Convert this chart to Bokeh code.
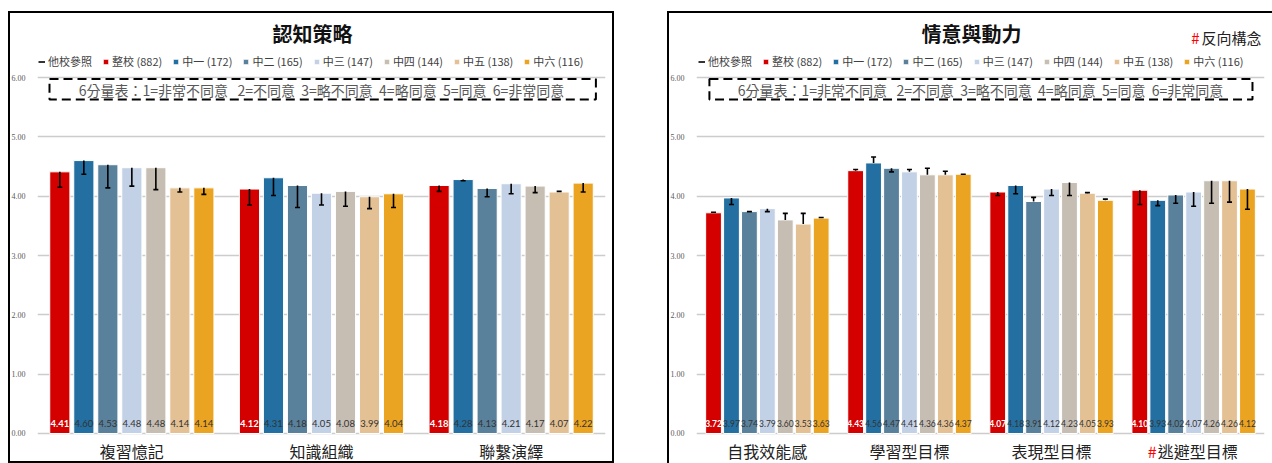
from bokeh.plotting import figure
from bokeh.models import (ColumnDataSource, FactorRange, Range1d, FixedTicker,
                          PrintfTickFormatter, Legend, LegendItem, BoxAnnotation,
                          Spacer)
from bokeh.layouts import row, column
from bokeh.core.properties import value
from bokeh.embed import file_html
from bokeh.resources import INLINE

# ---------------- data ----------------
series = ["整校", "中一", "中二", "中三", "中四", "中五", "中六"]
series_n = [882, 172, 165, 147, 144, 138, 116]
series_colors = ["#D40000", "#236FA1", "#5A819B", "#C3D1E6", "#C7BEB3", "#E3C194", "#EBA322"]
ref_name = "他校參照"
NB = "\u00a0"
scale_note = ("6分量表：1=非常不同意" + NB * 3 + "2=不同意" + NB * 2 + "3=略不同意" + NB * 2
              + "4=略同意" + NB * 2 + "5=同意" + NB * 2 + "6=非常同意")
y_ticks = [0, 1, 2, 3, 4, 5, 6]

cog_title = "認知策略"
cog_cats = ["複習憶記", "知識組織", "聯繫演繹"]
cog_school = [4.41, 4.12, 4.18]
cog_m1 = [4.60, 4.31, 4.28]
cog_m2 = [4.53, 4.18, 4.13]
cog_m3 = [4.48, 4.05, 4.21]
cog_m4 = [4.48, 4.08, 4.17]
cog_m5 = [4.14, 3.99, 4.07]
cog_m6 = [4.14, 4.04, 4.22]
cog_school_ref = [4.15, 3.85, 4.08]
cog_m1_ref = [4.37, 4.01, 4.26]
cog_m2_ref = [4.14, 3.81, 3.99]
cog_m3_ref = [4.17, 3.85, 4.04]
cog_m4_ref = [4.11, 3.83, 4.06]
cog_m5_ref = [4.07, 3.79, 4.08]
cog_m6_ref = [4.03, 3.81, 4.07]

aff_title = "情意與動力"
aff_note = "反向構念"
aff_cats = ["自我效能感", "學習型目標", "表現型目標", "#逃避型目標"]
aff_school = [3.72, 4.43, 4.07, 4.10]
aff_m1 = [3.97, 4.56, 4.18, 3.93]
aff_m2 = [3.74, 4.47, 3.91, 4.02]
aff_m3 = [3.79, 4.41, 4.12, 4.07]
aff_m4 = [3.60, 4.36, 4.23, 4.26]
aff_m5 = [3.53, 4.36, 4.05, 4.26]
aff_m6 = [3.63, 4.37, 3.93, 4.12]
aff_school_ref = [3.73, 4.45, 4.01, 3.86]
aff_m1_ref = [3.86, 4.66, 4.04, 3.84]
aff_m2_ref = [3.74, 4.41, 3.98, 3.88]
aff_m3_ref = [3.74, 4.45, 4.01, 3.83]
aff_m4_ref = [3.71, 4.47, 4.01, 3.88]
aff_m5_ref = [3.71, 4.42, 4.06, 3.90]
aff_m6_ref = [3.64, 4.37, 3.95, 3.78]

CJK = "Noto Sans CJK TC"
TOP_GAP = 11
HEIGHT = 463 - TOP_GAP
PX_PER_UNIT = 59.33
Y_START = -30 / PX_PER_UNIT          # frame bottom 30px below 0.00
Y_END = 6 + 66 / PX_PER_UNIT         # frame top 66px above 6.00


def ydat(px_above_6):
    return 6 + px_above_6 / PX_PER_UNIT


def make_panel(title, cats, vals, refs, width, border_left, border_right,
               bar_w, gp, pad, lab_size, box_l, box_r, shadow, legend_x,
               note=None):
    factors = [(c, s) for c in cats for s in series]
    xr = FactorRange(*factors, group_padding=gp, range_padding=pad,
                     range_padding_units="absolute", factor_padding=0,
                     subgroup_padding=0)
    p = figure(x_range=xr, y_range=Range1d(Y_START, Y_END), width=width, height=HEIGHT,
               output_backend="svg", toolbar_location=None, x_axis_location=None,
               min_border_left=border_left, min_border_right=border_right,
               min_border_top=0, min_border_bottom=0)
    p.styles = {"box-shadow": shadow}
    p.border_fill_alpha = 0
    p.background_fill_alpha = 0
    p.outline_line_color = None

    ax = p.yaxis[0]
    ax.ticker = FixedTicker(ticks=y_ticks)
    ax.formatter = PrintfTickFormatter(format="%.2f")
    ax.axis_line_color = None
    ax.major_tick_line_color = None
    ax.minor_tick_line_color = None
    ax.major_label_text_font = "Liberation Serif"
    ax.major_label_text_font_size = "8px"
    ax.major_label_text_color = "#595959"
    ax.major_label_standoff = 6

    p.xgrid.visible = False
    p.ygrid.ticker = FixedTicker(ticks=y_ticks)
    p.ygrid.grid_line_color = "#CCCCCC"
    p.ygrid.grid_line_width = 1.5

    n = len(cats)
    total = n * len(series) + (n - 1) * gp

    # title (inside the frame area above the 6.00 line)
    p.text(x=[total / 2], y=[ydat(44)], text=[title], x_offset=-9,
           text_align="center", text_baseline="middle", text_font=value(CJK),
           text_font_size="20px", text_font_style="bold", text_color="#111111")

    all_x, all_v, all_r = [], [], []
    bar_renderers = []
    for i, s in enumerate(series):
        xs = [(c, s) for c in cats]
        src = ColumnDataSource(dict(x=xs, top=vals[i],
                                    lab=[f"{v:.2f}" for v in vals[i]]))
        r = p.vbar(x="x", top="top", width=bar_w, source=src,
                   fill_color=series_colors[i], line_color="white", line_width=1)
        bar_renderers.append(r)
        p.text(x="x", y=0, text="lab", source=src, y_offset=-10,
               text_align="center", text_baseline="middle",
               text_font=value("Lato"), text_font_size=lab_size,
               text_font_style="bold" if i == 0 else "normal",
               text_color="white" if i == 0 else "#333333")
        all_x += xs
        all_v += vals[i]
        all_r += refs[i]

    esrc = ColumnDataSource(dict(x=all_x, v=all_v, r=all_r))
    seg = p.segment(x0="x", y0="v", x1="x", y1="r", source=esrc,
                    line_color="black", line_width=1.6)
    p.scatter(x="x", y="r", source=esrc, marker="dash", size=5,
              line_color="black", line_width=1.6)

    items = [LegendItem(label=ref_name, renderers=[seg])]
    for i, s in enumerate(series):
        items.append(LegendItem(label=f"{s} ({series_n[i]})", renderers=[bar_renderers[i]]))
    legend = Legend(items=items, orientation="horizontal", location=(legend_x, HEIGHT - 58),
                    border_line_color=None, background_fill_alpha=0,
                    glyph_width=7, glyph_height=7, label_standoff=3, spacing=10,
                    padding=2, margin=0, label_text_font=CJK,
                    label_text_font_size="11px", label_text_color="#404040",
                    label_height=12)
    p.add_layout(legend, "center")

    # category labels
    ycat = -18 / PX_PER_UNIT
    plain = [c for c in cats if not c.startswith("#")]
    p.text(x=plain, y=[ycat] * len(plain), text=plain, text_align="center",
           text_baseline="middle", text_font=value(CJK), text_font_size="16px",
           text_color="#222222")
    marked = [c for c in cats if c.startswith("#")]
    if marked:
        rest = [c[1:] for c in marked]
        p.text(x=marked, y=[ycat] * len(marked), text=rest, text_align="center",
               text_baseline="middle", text_font=value(CJK), text_font_size="16px",
               text_color="#222222", x_offset=4)
        p.text(x=marked, y=[ycat] * len(marked), text=["#"] * len(marked),
               text_align="right", text_baseline="middle", text_font=value(CJK),
               text_font_size="16px", text_color="#FF0000", x_offset=-37)

    # scale note box
    p.add_layout(BoxAnnotation(left=-pad + box_l, right=total + pad - box_r,
                               top=ydat(-1.5), bottom=ydat(-22), fill_alpha=0,
                               line_color="black", line_alpha=1, line_width=2,
                               line_dash="9 5"))
    p.text(x=[total / 2], y=[ydat(-12)], text=[scale_note], text_align="center",
           text_baseline="middle", text_font=value(CJK), text_font_size="14px",
           text_color="#595959")

    if note is not None:
        p.text(x=[total + pad], y=[ydat(40)], text=[note], x_offset=-3,
               text_align="right", text_baseline="middle", text_font=value(CJK),
               text_font_size="15px", text_color="#222222")
        p.text(x=[total + pad], y=[ydat(40)], text=["#"], x_offset=-65,
               text_align="right", text_baseline="middle", text_font=value(CJK),
               text_font_size="15px", text_color="#FF0000")
    return p


cog_vals = [cog_school, cog_m1, cog_m2, cog_m3, cog_m4, cog_m5, cog_m6]
cog_refs = [cog_school_ref, cog_m1_ref, cog_m2_ref, cog_m3_ref, cog_m4_ref, cog_m5_ref, cog_m6_ref]
aff_vals = [aff_school, aff_m1, aff_m2, aff_m3, aff_m4, aff_m5, aff_m6]
aff_refs = [aff_school_ref, aff_m1_ref, aff_m2_ref, aff_m3_ref, aff_m4_ref, aff_m5_ref, aff_m6_ref]

p1 = make_panel(cog_title, cog_cats, cog_vals, cog_refs, width=606, border_left=29,
                border_right=9, bar_w=0.84, gp=0.9, pad=0.43, lab_size="9.5px",
                box_l=0.5, box_r=0.4, shadow="inset 0 0 0 2px #000", legend_x=1)
p2 = make_panel(aff_title, aff_cats, aff_vals, aff_refs, width=605, border_left=26,
                border_right=8, bar_w=0.88, gp=0.92, pad=0.45, lab_size="8.5px",
                box_l=0.72, box_r=0.67, shadow="inset 2px 2px 0 0 #000", legend_x=2,
                note=aff_note)

layout = column(Spacer(width=1272, height=TOP_GAP),
                row(Spacer(width=8, height=HEIGHT), p1, Spacer(width=53, height=HEIGHT), p2))
open("out.html", "w").write(file_html(layout, INLINE))
